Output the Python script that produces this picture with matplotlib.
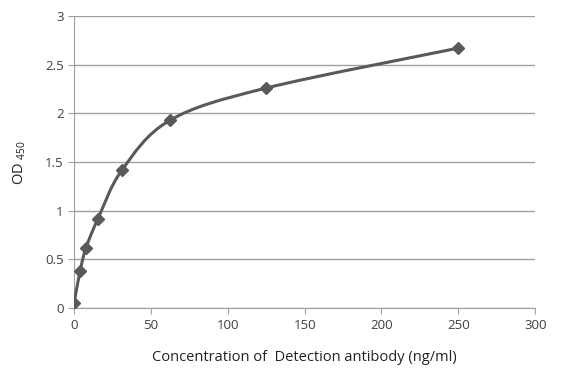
import numpy as np
import matplotlib.pyplot as plt
from matplotlib.path import Path
from matplotlib.patches import PathPatch

conc = [0, 3.9, 7.8, 15.6, 31.25, 62.5, 125, 250]
od = [0.05, 0.38, 0.62, 0.92, 1.42, 1.93, 2.26, 2.67]
xticks = [0, 50, 100, 150, 200, 250, 300]
yticks = [0, 0.5, 1, 1.5, 2, 2.5, 3]

plt.rcParams['font.family'] = ['Open Sans', 'DejaVu Sans']
fig = plt.figure(figsize=(5.61, 3.80), dpi=100)
ax = fig.add_axes([0.132, 0.189, 0.822, 0.769])

# smoothed line like Excel (cardinal spline as bezier segments)
p = np.column_stack([conc, od])
verts = [p[0]]
codes = [Path.MOVETO]
n = len(p)
for i in range(n - 1):
    p0 = p[i - 1] if i > 0 else p[i]
    p3 = p[i + 2] if i + 2 < n else p[i + 1]
    c1 = p[i] + (p[i + 1] - p0) / 6
    c2 = p[i + 1] - (p3 - p[i]) / 6
    verts += [c1, c2, p[i + 1]]
    codes += [Path.CURVE4] * 3
ax.add_patch(PathPatch(Path(verts, codes), fill=False, edgecolor='#595959', lw=2.2, zorder=3))
ax.plot(conc, od, ls='none', marker='D', ms=6.5, color='#595959', zorder=4)

ax.set_xlim(0, 300)
ax.set_ylim(0, 3)
ax.set_xticks(xticks)
ax.set_yticks(yticks)
ax.set_yticklabels([str(t) for t in yticks])
ax.grid(axis='y', color='#a0a0a0', lw=1)
ax.set_axisbelow(True)
for s in ['top', 'right']:
    ax.spines[s].set_visible(False)
for s in ['left', 'bottom']:
    ax.spines[s].set_color('#a0a0a0')
ax.tick_params(colors='#a0a0a0', labelcolor='#404040', labelsize=9.5, length=4)
ax.set_xlabel('Concentration of  Detection antibody (ng/ml)', fontsize=10.5, color='#222222', labelpad=13)
ax.set_ylabel(r'OD $_{\mathregular{450}}$', fontsize=10.5, color='#222222', labelpad=12)

fig.savefig('out.png')
